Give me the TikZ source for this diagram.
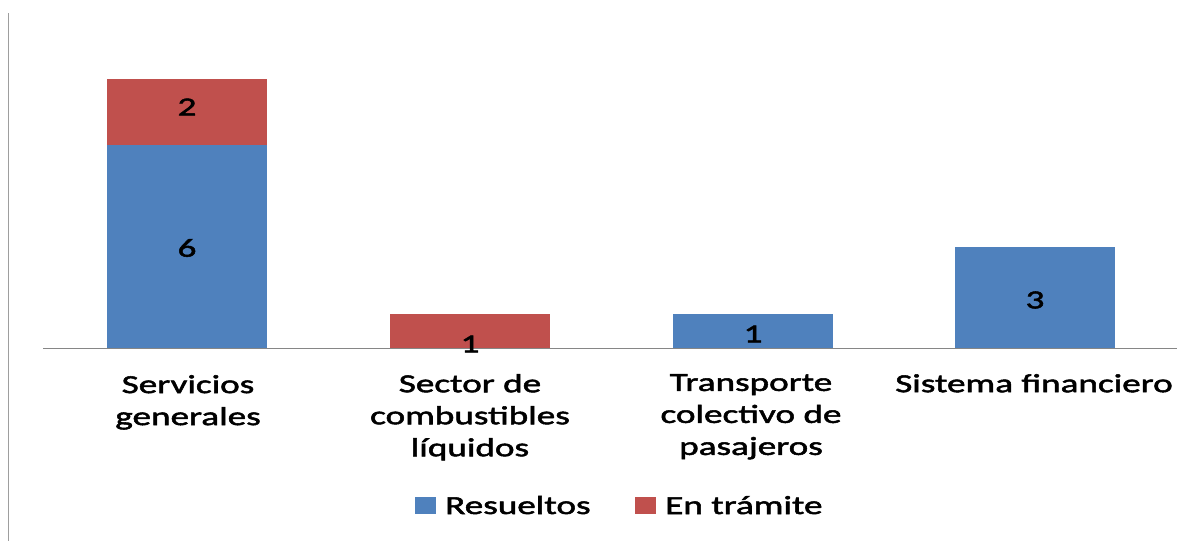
\documentclass[tikz,border=0pt]{standalone}
\usepackage{fontspec}
\newfontfamily\lab[FakeStretch=1.43,FakeBold=2]{Carlito}
\definecolor{resblue}{HTML}{4F81BD}
\definecolor{tramred}{HTML}{C0504D}
\definecolor{axisgray}{HTML}{868686}
\begin{document}
\begin{tikzpicture}[x=1pt,y=-1pt,
  txt/.style={font=\lab\fontsize{26}{32}\selectfont, text=black, inner sep=0pt},
  cat/.style={txt, align=center, anchor=north},
  val/.style={txt, anchor=center},
  barres/.style={fill=resblue, draw=none},
  bartram/.style={fill=tramred, draw=none},
  axisline/.style={draw=axisgray, line width=1.6pt}]
\path[use as bounding box, fill=white] (0,0) rectangle (1204,541);
% vertical axis
\coordinate (vt) at (8.5,13);
\coordinate (vb) at (8.5,541);
\draw[axisline, draw=axisgray!80] (vt) -- (vb);
% bars
\path[barres] (107,145) rectangle (267,348);
\path[bartram] (107,79) rectangle (267,145);
\path[bartram] (390,314) rectangle (550,348);
\path[barres] (673,314) rectangle (833,348);
\path[barres] (955,247) rectangle (1115,348);
% horizontal axis
\coordinate (hl) at (43,348.5);
\coordinate (hr) at (1177,348.5);
\draw[axisline] (hl) -- (hr);
% value labels
\node[val] (v6) at (187,248) {6};
\node[val] (v2) at (187,107) {2};
\node[val] (v1a) at (470,344) {1};
\node[val] (v1b) at (753,334) {1};
\node[val] (v3) at (1035,300) {3};
% category labels
\node[cat] (c1) at (188,375) {Servicios\\generales};
\node[cat] (c2) at (470,374) {Sector de\\combustibles\\líquidos};
\node[cat] (c3) at (751,374) {Transporte\\colectivo de\\pasajeros};
\node[cat] (c4) at (1034,374) {Sistema financiero};
% legend
\path[barres] (415,497) rectangle (436,514) coordinate (lb);
\node[txt, anchor=base west] (lr) at (445,514) {Resueltos};
\path[bartram] (635,497) rectangle (656,514) coordinate (lt);
\node[txt, anchor=base west] (le) at (665,514) {En trámite};
\end{tikzpicture}
\end{document}
